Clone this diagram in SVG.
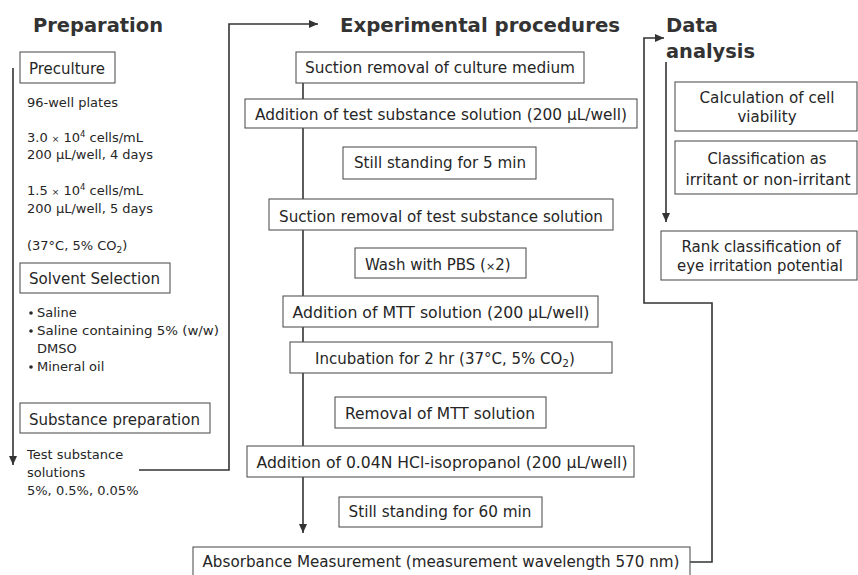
<svg xmlns="http://www.w3.org/2000/svg" width="858" height="575" viewBox="0 0 858 575">
<style>
text{font-family:"DejaVu Sans","Verdana",sans-serif;fill:#262626}
.h{font-size:19.5px;font-weight:bold;fill:#333}
.b{font-size:15px}
.l{font-size:15.5px}
.s{font-size:13px}
.box{fill:#fff;stroke:#555;stroke-width:1.1}
.con{fill:none;stroke:#333;stroke-width:1.6}
</style>
<defs>
<marker id="ah" markerUnits="userSpaceOnUse" markerWidth="9" markerHeight="9" viewBox="0 0 9 9" refX="9" refY="4.5" orient="auto">
<path d="M0,0.5 L9,4.5 L0,8.5 z" fill="#333"/>
</marker>
</defs>
<rect width="858" height="575" fill="#fff"/>

<g id="connectors">
<path class="con" d="M13,68 V465" marker-end="url(#ah)"/>
<path class="con" d="M139,470 H229 V24 H318" marker-end="url(#ah)"/>
<path class="con" d="M303,83 V533" marker-end="url(#ah)"/>
<path class="con" d="M690,562 H712 V303 H644 V38 H664" marker-end="url(#ah)"/>
<path class="con" d="M666,62 V222" marker-end="url(#ah)"/>
</g>

<g id="headings">
<text class="h" x="33" y="32" textLength="130" lengthAdjust="spacingAndGlyphs">Preparation</text>
<text class="h" x="340" y="32" textLength="280" lengthAdjust="spacingAndGlyphs">Experimental procedures</text>
<text class="h" x="666" y="32" textLength="52" lengthAdjust="spacingAndGlyphs">Data</text>
<text class="h" x="666" y="58" textLength="89" lengthAdjust="spacingAndGlyphs">analysis</text>
</g>

<g id="preculture">
<rect class="box" x="20" y="52" width="95" height="31"/>
<text class="l" x="29" y="74" textLength="76" lengthAdjust="spacingAndGlyphs">Preculture</text>
</g>
<g id="preculture-details">
<text class="s" x="27" y="107">96-well plates</text>
<text class="s" x="27" y="142">3.0 <tspan font-size="9">×</tspan> 10<tspan font-size="8.5" dy="-5">4</tspan><tspan dy="5"> cells/mL</tspan></text>
<text class="s" x="27" y="159">200 μL/well, 4 days</text>
<text class="s" x="27" y="195">1.5 <tspan font-size="9">×</tspan> 10<tspan font-size="8.5" dy="-5">4</tspan><tspan dy="5"> cells/mL</tspan></text>
<text class="s" x="27" y="213">200 μL/well, 5 days</text>
<text class="s" x="27" y="250">(37°C, 5% CO<tspan font-size="9" dy="3">2</tspan><tspan dy="-3">)</tspan></text>
</g>

<g id="solvent-selection">
<rect class="box" x="20" y="263" width="150" height="30"/>
<text class="l" x="29" y="284" textLength="131" lengthAdjust="spacingAndGlyphs">Solvent Selection</text>
</g>
<g id="solvent-list">
<circle cx="31" cy="313" r="1.8" fill="#262626"/>
<text class="s" x="37" y="317">Saline</text>
<circle cx="31" cy="331" r="1.8" fill="#262626"/>
<text class="s" x="37" y="335" textLength="182" lengthAdjust="spacingAndGlyphs">Saline containing 5% (w/w)</text>
<text class="s" x="37" y="353">DMSO</text>
<circle cx="31" cy="367" r="1.8" fill="#262626"/>
<text class="s" x="37" y="371">Mineral oil</text>
</g>

<g id="substance-preparation">
<rect class="box" x="20" y="403" width="190" height="30"/>
<text class="l" x="29" y="425" textLength="171" lengthAdjust="spacingAndGlyphs">Substance preparation</text>
</g>
<g id="substance-details">
<text class="s" x="27" y="459">Test substance</text>
<text class="s" x="27" y="477">solutions</text>
<text class="s" x="27" y="495">5%, 0.5%, 0.05%</text>
</g>

<g id="p1"><rect class="box" x="296" y="52" width="288" height="31"/>
<text class="b" x="440" y="73" text-anchor="middle" textLength="270" lengthAdjust="spacingAndGlyphs">Suction removal of culture medium</text></g>
<g id="p2"><rect class="box" x="245" y="99" width="392" height="29"/>
<text class="b" x="441" y="120" text-anchor="middle" textLength="372" lengthAdjust="spacingAndGlyphs">Addition of test substance solution (200 μL/well)</text></g>
<g id="p3"><rect class="box" x="343" y="147" width="193" height="32"/>
<text class="b" x="440" y="168" text-anchor="middle" textLength="172" lengthAdjust="spacingAndGlyphs">Still standing for 5 min</text></g>
<g id="p4"><rect class="box" x="269" y="199" width="344" height="31"/>
<text class="b" x="441" y="222" text-anchor="middle" textLength="324" lengthAdjust="spacingAndGlyphs">Suction removal of test substance solution</text></g>
<g id="p5"><rect class="box" x="355" y="248" width="171" height="30"/>
<text class="b" x="365" y="270">Wash with PBS (<tspan font-size="11">×</tspan>2)</text></g>
<g id="p6"><rect class="box" x="283" y="296" width="315" height="31"/>
<text class="b" x="441" y="318" text-anchor="middle" textLength="297" lengthAdjust="spacingAndGlyphs">Addition of MTT solution (200 μL/well)</text></g>
<g id="p7"><rect class="box" x="290" y="342" width="322" height="31"/>
<text class="b" x="315" y="364">Incubation for 2 hr (37°C, 5% CO<tspan font-size="10.5" dy="3">2</tspan><tspan dy="-3">)</tspan></text></g>
<g id="p8"><rect class="box" x="335" y="397" width="211" height="31"/>
<text class="b" x="440" y="419" text-anchor="middle" textLength="190" lengthAdjust="spacingAndGlyphs">Removal of MTT solution</text></g>
<g id="p9"><rect class="box" x="247" y="446" width="387" height="31"/>
<text class="b" x="442" y="468" text-anchor="middle" textLength="371" lengthAdjust="spacingAndGlyphs">Addition of 0.04N HCl-isopropanol (200 μL/well)</text></g>
<g id="p10"><rect class="box" x="339" y="497" width="203" height="30"/>
<text class="b" x="440" y="517" text-anchor="middle" textLength="183" lengthAdjust="spacingAndGlyphs">Still standing for 60 min</text></g>
<g id="p11"><rect class="box" x="193" y="547" width="497" height="32"/>
<text class="b" x="441" y="567" text-anchor="middle" textLength="477" lengthAdjust="spacingAndGlyphs">Absorbance Measurement (measurement wavelength 570 nm)</text></g>

<g id="d1"><rect class="box" x="675" y="82" width="182" height="49"/>
<text class="b" x="767" y="103" text-anchor="middle" textLength="135" lengthAdjust="spacingAndGlyphs">Calculation of cell</text>
<text class="b" x="767" y="122" text-anchor="middle">viability</text></g>
<g id="d2"><rect class="box" x="675" y="141" width="182" height="53"/>
<text class="b" x="767" y="164" text-anchor="middle" textLength="119" lengthAdjust="spacingAndGlyphs">Classification as</text>
<text class="b" x="768" y="185" text-anchor="middle" textLength="165" lengthAdjust="spacingAndGlyphs">irritant or non-irritant</text></g>
<g id="d3"><rect class="box" x="661" y="231" width="196" height="49"/>
<text class="b" x="761" y="252" text-anchor="middle" textLength="159" lengthAdjust="spacingAndGlyphs">Rank classification of</text>
<text class="b" x="760" y="271" text-anchor="middle" textLength="166" lengthAdjust="spacingAndGlyphs">eye irritation potential</text></g>
</svg>
